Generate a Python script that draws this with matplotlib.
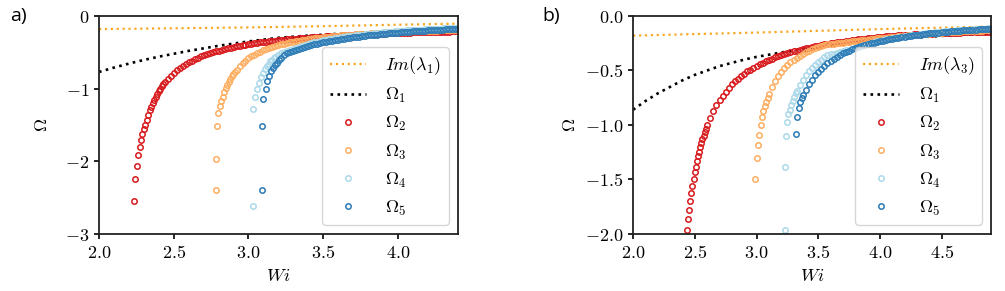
import numpy as np
import matplotlib
matplotlib.use('Agg')
import matplotlib.pyplot as plt
from matplotlib.ticker import FuncFormatter

plt.rcParams['mathtext.fontset'] = 'cm'
plt.rcParams['font.size'] = 12.5

# ---------------- panel a) data ----------------
# dotted reference lines
im_a_wi = [2.0, 2.5, 3.0, 3.5, 4.0, 4.4]
im_a_om = [-0.180, -0.169, -0.157, -0.140, -0.120, -0.105]
om1_a_wi = [2.0, 2.1, 2.2, 2.3, 2.4, 2.5, 2.6, 2.7, 2.8, 2.9, 3.0, 3.1, 3.2, 3.3, 3.4, 3.6, 3.8, 4.0, 4.2, 4.4]
om1_a_om = [-0.77, -0.71, -0.655, -0.605, -0.56, -0.52, -0.48, -0.445, -0.41, -0.38, -0.35, -0.325,
            -0.30, -0.285, -0.27, -0.245, -0.225, -0.21, -0.195, -0.185]

# Wi grid of the dense part of the branches
wi_a = [2.44, 2.46, 2.48, 2.50, 2.52, 2.54, 2.56, 2.58, 2.60, 2.62,
        2.64, 2.66, 2.68, 2.70, 2.72, 2.74, 2.76, 2.78, 2.80, 2.82,
        2.84, 2.86, 2.88, 2.90, 2.92, 2.94, 2.96, 2.98, 3.00, 3.02,
        3.04, 3.06, 3.08, 3.10, 3.12, 3.14, 3.16, 3.18, 3.20, 3.22,
        3.24, 3.26, 3.28, 3.30, 3.32, 3.34, 3.36, 3.38, 3.40, 3.42,
        3.44, 3.46, 3.48, 3.50, 3.52, 3.54, 3.56, 3.58, 3.60, 3.62,
        3.64, 3.66, 3.68, 3.70, 3.72, 3.74, 3.76, 3.78, 3.80, 3.82,
        3.84, 3.86, 3.88, 3.90, 3.92, 3.94, 3.96, 3.98, 4.00, 4.02,
        4.04, 4.06, 4.08, 4.10, 4.12, 4.14, 4.16, 4.18, 4.20, 4.22,
        4.24, 4.26, 4.28, 4.30, 4.32, 4.34, 4.36, 4.38, 4.40]

# Omega_2 (red)
om2_a_tail_wi = [2.234, 2.244, 2.252, 2.262, 2.273, 2.282, 2.291, 2.300, 2.31, 2.32, 2.33,
                 2.34, 2.35, 2.36, 2.37, 2.38, 2.39, 2.40, 2.41, 2.42, 2.43]
om2_a_tail = [-2.54, -2.25, -2.06, -1.91, -1.80, -1.70, -1.62, -1.55, -1.50, -1.43, -1.36,
              -1.30, -1.25, -1.20, -1.15, -1.11, -1.07, -1.03, -1.00, -0.97, -0.94]
om2_a = [-0.912, -0.863, -0.819, -0.780, -0.745, -0.714, -0.685, -0.659, -0.635, -0.613,
         -0.593, -0.574, -0.557, -0.541, -0.526, -0.512, -0.499, -0.487, -0.475, -0.464,
         -0.454, -0.444, -0.435, -0.426, -0.418, -0.410, -0.403, -0.396, -0.389, -0.382,
         -0.376, -0.370, -0.364, -0.359, -0.354, -0.349, -0.344, -0.339, -0.335, -0.330,
         -0.326, -0.322, -0.318, -0.315, -0.311, -0.308, -0.304, -0.301, -0.298, -0.295,
         -0.292, -0.289, -0.286, -0.283, -0.281, -0.278, -0.276, -0.273, -0.271, -0.269,
         -0.266, -0.264, -0.262, -0.260, -0.258, -0.256, -0.254, -0.252, -0.250, -0.249,
         -0.247, -0.245, -0.244, -0.242, -0.240, -0.239, -0.237, -0.236, -0.234, -0.233,
         -0.231, -0.230, -0.229, -0.227, -0.226, -0.225, -0.224, -0.222, -0.221, -0.220,
         -0.219, -0.218, -0.217, -0.216, -0.215, -0.214, -0.213, -0.212, -0.211]

# Omega_3 (orange)
om3_a_tail_wi = [2.783, 2.781, 2.789, 2.798, 2.809, 2.818, 2.828, 2.838, 2.848, 2.858, 2.868,
                 2.878, 2.888, 2.898, 2.908]
om3_a_tail = [-2.39, -1.97, -1.51, -1.34, -1.24, -1.17, -1.11, -1.05, -0.994, -0.947, -0.904,
              -0.866, -0.831, -0.799, -0.769]
om3_a = [-0.737, -0.690, -0.650, -0.614, -0.583, -0.556, -0.531, -0.509, -0.489, -0.471,
         -0.455, -0.440, -0.426, -0.413, -0.401, -0.390, -0.380, -0.371, -0.362, -0.354,
         -0.346, -0.338, -0.332, -0.325, -0.319, -0.313, -0.308, -0.302, -0.297, -0.293,
         -0.288, -0.284, -0.280, -0.276, -0.272, -0.268, -0.265, -0.261, -0.258, -0.255,
         -0.252, -0.249, -0.247, -0.244, -0.241, -0.239, -0.237, -0.234, -0.232, -0.230,
         -0.228, -0.226, -0.224, -0.222, -0.220, -0.218, -0.217, -0.215, -0.213, -0.212,
         -0.210, -0.209, -0.207, -0.206, -0.205, -0.203, -0.202, -0.201, -0.199, -0.198,
         -0.197, -0.196, -0.195, -0.194, -0.192]

# Omega_4 (light blue)
om4_a_tail_wi = [3.032, 3.032, 3.043, 3.055, 3.068, 3.082, 3.095, 3.108, 3.121, 3.134, 3.147,
                 3.160, 3.172]
om4_a_tail = [-2.61, -1.28, -1.11, -1.01, -0.92, -0.84, -0.78, -0.73, -0.69, -0.655, -0.625,
              -0.60, -0.575]
om4_a = [-0.558, -0.536, -0.516, -0.497, -0.480, -0.463, -0.448, -0.434, -0.421, -0.408,
         -0.396, -0.385, -0.374, -0.364, -0.355, -0.346, -0.337, -0.329, -0.321, -0.314,
         -0.307, -0.300, -0.294, -0.287, -0.282, -0.276, -0.270, -0.265, -0.260, -0.255,
         -0.250, -0.246, -0.242, -0.237, -0.233, -0.229, -0.226, -0.222, -0.218, -0.215,
         -0.212, -0.208, -0.205, -0.202, -0.199, -0.196, -0.194, -0.191, -0.188, -0.186,
         -0.183, -0.181, -0.178, -0.176, -0.174, -0.172, -0.169, -0.167, -0.165, -0.163,
         -0.161, -0.160]

# Omega_5 (blue)
om5_a_tail_wi = [3.092, 3.092, 3.100, 3.114, 3.126, 3.139, 3.152, 3.165, 3.178, 3.190, 3.202]
om5_a_tail = [-2.40, -1.52, -1.14, -1.00, -0.90, -0.83, -0.76, -0.71, -0.67, -0.64, -0.61]
om5_a = [-0.575, -0.540, -0.510, -0.494, -0.478, -0.464, -0.450, -0.437, -0.425, -0.414,
         -0.403, -0.392, -0.383, -0.373, -0.364, -0.356, -0.348, -0.340, -0.333, -0.326,
         -0.319, -0.312, -0.306, -0.300, -0.294, -0.289, -0.283, -0.278, -0.273, -0.268,
         -0.264, -0.259, -0.255, -0.251, -0.247, -0.243, -0.239, -0.235, -0.232, -0.228,
         -0.225, -0.222, -0.219, -0.215, -0.213, -0.210, -0.207, -0.204, -0.201, -0.199,
         -0.196, -0.194, -0.191, -0.189, -0.187, -0.184, -0.182, -0.180, -0.178, -0.176]

# ---------------- panel b) data ----------------
im_b_wi = [2.0, 2.5, 3.0, 3.5, 4.0, 4.5, 4.9]
im_b_om = [-0.180, -0.166, -0.152, -0.136, -0.120, -0.107, -0.097]
om1_b_wi = [2.0, 2.1, 2.2, 2.3, 2.4, 2.5, 2.6, 2.7, 2.8, 2.9, 3.0, 3.2, 3.4, 3.6, 3.8, 4.0, 4.2, 4.4, 4.6, 4.9]
om1_b_om = [-0.86, -0.78, -0.71, -0.65, -0.59, -0.54, -0.50, -0.46, -0.43, -0.40, -0.375, -0.335,
            -0.30, -0.27, -0.245, -0.225, -0.205, -0.19, -0.175, -0.16]

wi_b = [2.600, 2.625, 2.650, 2.675, 2.700, 2.725, 2.750, 2.775, 2.800, 2.825,
        2.850, 2.875, 2.900, 2.925, 2.950, 2.975, 3.000, 3.025, 3.050, 3.075,
        3.100, 3.125, 3.150, 3.175, 3.200, 3.225, 3.250, 3.275, 3.300, 3.325,
        3.350, 3.375, 3.400, 3.425, 3.450, 3.475, 3.500, 3.525, 3.550, 3.575,
        3.600, 3.625, 3.650, 3.675, 3.700, 3.725, 3.750, 3.775, 3.800, 3.825,
        3.850, 3.875, 3.900, 3.925, 3.950, 3.975, 4.000, 4.025, 4.050, 4.075,
        4.100, 4.125, 4.150, 4.175, 4.200, 4.225, 4.250, 4.275, 4.300, 4.325,
        4.350, 4.375, 4.400, 4.425, 4.450, 4.475, 4.500, 4.525, 4.550, 4.575,
        4.600, 4.625, 4.650, 4.675, 4.700, 4.725, 4.750, 4.775, 4.800, 4.825,
        4.850, 4.875, 4.900]

om2_b_tail_wi = [2.436, 2.445, 2.454, 2.463, 2.472, 2.481, 2.490, 2.499, 2.508, 2.517, 2.526,
                 2.535, 2.544, 2.553, 2.562, 2.571, 2.580, 2.589]
om2_b_tail = [-1.965, -1.867, -1.778, -1.697, -1.623, -1.556, -1.493, -1.436, -1.383, -1.333,
              -1.287, -1.244, -1.204, -1.167, -1.131, -1.098, -1.067, -1.037]
om2_b = [-1.003, -0.933, -0.873, -0.820, -0.772, -0.730, -0.693, -0.659, -0.628, -0.600,
         -0.574, -0.551, -0.529, -0.509, -0.491, -0.473, -0.457, -0.442, -0.428, -0.415,
         -0.402, -0.391, -0.380, -0.369, -0.359, -0.350, -0.341, -0.333, -0.325, -0.317,
         -0.310, -0.303, -0.296, -0.290, -0.284, -0.278, -0.272, -0.267, -0.261, -0.256,
         -0.252, -0.247, -0.243, -0.238, -0.234, -0.230, -0.226, -0.223, -0.219, -0.215,
         -0.212, -0.209, -0.206, -0.202, -0.199, -0.196, -0.194, -0.191, -0.188, -0.186,
         -0.183, -0.181, -0.178, -0.176, -0.174, -0.172, -0.170, -0.168, -0.167, -0.165,
         -0.164, -0.163, -0.162, -0.161, -0.160, -0.158, -0.157, -0.156, -0.155, -0.154,
         -0.154, -0.153, -0.152, -0.151, -0.150, -0.149, -0.149, -0.148, -0.147, -0.146,
         -0.146, -0.145, -0.144]

om3_b_tail_wi = [2.990, 3.000, 3.008, 3.020, 3.033, 3.045, 3.056, 3.067, 3.078, 3.089]
om3_b_tail = [-1.50, -1.30, -1.18, -1.09, -1.00, -0.93, -0.87, -0.83, -0.79, -0.75]
om3_b = [-0.714, -0.648, -0.594, -0.548, -0.510, -0.477, -0.448, -0.423, -0.400, -0.381,
         -0.363, -0.347, -0.332, -0.319, -0.307, -0.296, -0.286, -0.277, -0.268, -0.260,
         -0.257, -0.254, -0.252, -0.248, -0.244, -0.240, -0.236, -0.233, -0.229, -0.225,
         -0.222, -0.219, -0.216, -0.212, -0.209, -0.206, -0.204, -0.201, -0.198, -0.196,
         -0.193, -0.191, -0.188, -0.186, -0.182, -0.178, -0.176, -0.173, -0.170, -0.168,
         -0.165, -0.163, -0.161, -0.159, -0.157, -0.155, -0.153, -0.151, -0.149, -0.148,
         -0.146, -0.145, -0.143, -0.142, -0.140, -0.139, -0.138, -0.136, -0.135, -0.134,
         -0.132, -0.131, -0.130]

om4_b_tail_wi = [3.228, 3.234, 3.239, 3.245, 3.258, 3.270, 3.282, 3.294, 3.306, 3.318]
om4_b_tail = [-1.964, -1.385, -1.098, -0.973, -0.90, -0.864, -0.819, -0.779, -0.742, -0.709]
om4_b = [-0.691, -0.633, -0.585, -0.543, -0.507, -0.475, -0.447, -0.422, -0.400, -0.380,
         -0.362, -0.352, -0.345, -0.338, -0.331, -0.324, -0.316, -0.308, -0.300, -0.292,
         -0.282, -0.272, -0.264, -0.255, -0.247, -0.240, -0.233, -0.227, -0.221, -0.215,
         -0.209, -0.204, -0.199, -0.194, -0.190, -0.185, -0.181, -0.177, -0.173, -0.170,
         -0.166, -0.163, -0.159, -0.156, -0.153, -0.150, -0.148, -0.145, -0.142, -0.140,
         -0.137, -0.135, -0.133, -0.131, -0.128, -0.126, -0.124, -0.123, -0.121, -0.119,
         -0.117, -0.115, -0.114, -0.112]

om5_b_tail_wi = [3.320, 3.329, 3.342, 3.356, 3.368, 3.380]
om5_b_tail = [-1.083, -0.93, -0.845, -0.789, -0.755, -0.724]
om5_b = [-0.677, -0.627, -0.583, -0.545, -0.512, -0.483, -0.457, -0.433, -0.412, -0.393,
         -0.375, -0.359, -0.344, -0.331, -0.318, -0.307, -0.296, -0.286, -0.276, -0.268,
         -0.259, -0.251, -0.244, -0.237, -0.231, -0.225, -0.219, -0.213, -0.208, -0.203,
         -0.198, -0.194, -0.189, -0.185, -0.181, -0.177, -0.174, -0.170, -0.167, -0.163,
         -0.160, -0.157, -0.154, -0.152, -0.149, -0.146, -0.144, -0.141, -0.139, -0.137,
         -0.135, -0.132, -0.130, -0.128, -0.127, -0.125, -0.123, -0.121, -0.119, -0.118,
         -0.116]

colors = ['#d7191c', '#fdae61', '#abd9e9', '#2c7bb6']
im_color = '#f9a825'


def branch(tail_wi, tail_om, grid, band):
    # sparse points near the onset + dense part sitting on the end of the grid
    wi = list(tail_wi) + list(grid[len(grid) - len(band):])
    om = list(tail_om) + list(band)
    return wi, om


def draw(ax, im_wi, im_om, im_label, o1_wi, o1_om, branches, fmt, ypad):
    ax.plot(im_wi, im_om, ':', color=im_color, lw=1.6, label=im_label)
    ax.plot(o1_wi, o1_om, ':', color='k', lw=1.9, label=r'$\Omega_1$')
    for i, (wi, om) in enumerate(branches):
        ax.plot(wi, om, 'o', ls='none', mfc='none', mec=colors[i], ms=3.9, mew=1.1,
                label=r'$\Omega_%d$' % (i + 2))
    for s in ax.spines.values():
        s.set_linewidth(1.3)
        s.set_color('#222222')
    ax.tick_params(width=1.2, length=3.5, labelsize=13)
    ax.xaxis.set_major_formatter(FuncFormatter(lambda v, p: r'$%.1f$' % v))
    ax.yaxis.set_major_formatter(FuncFormatter(lambda v, p: r'$%s$' % (fmt % v)))
    ax.set_xlabel(r'$Wi$', fontsize=13)
    ax.set_ylabel(r'$\Omega$', fontsize=13, labelpad=ypad)
    ax.legend(loc='lower right', fontsize=13, handlelength=2.0, handletextpad=1.1)


fig = plt.figure(figsize=(10.05, 2.91), dpi=100)
ax1 = fig.add_axes([0.0985, 0.196, 0.357, 0.749])
ax2 = fig.add_axes([0.630, 0.196, 0.356, 0.749])

branches_a = [branch(om2_a_tail_wi, om2_a_tail, wi_a, om2_a),
              branch(om3_a_tail_wi, om3_a_tail, wi_a, om3_a),
              branch(om4_a_tail_wi, om4_a_tail, wi_a, om4_a),
              branch(om5_a_tail_wi, om5_a_tail, wi_a, om5_a)]
draw(ax1, im_a_wi, im_a_om, r'$Im(\lambda_1)$', om1_a_wi, om1_a_om, branches_a, '%.0f', 10)
ax1.set_xlim(2.0, 4.4)
ax1.set_ylim(-3, 0)
ax1.set_xticks([2.0, 2.5, 3.0, 3.5, 4.0])
ax1.set_yticks([0, -1, -2, -3])

branches_b = [branch(om2_b_tail_wi, om2_b_tail, wi_b, om2_b),
              branch(om3_b_tail_wi, om3_b_tail, wi_b, om3_b),
              branch(om4_b_tail_wi, om4_b_tail, wi_b, om4_b),
              branch(om5_b_tail_wi, om5_b_tail, wi_b, om5_b)]
draw(ax2, im_b_wi, im_b_om, r'$Im(\lambda_3)$', om1_b_wi, om1_b_om, branches_b, '%.1f', 4)
ax2.set_xlim(2.0, 4.9)
ax2.set_ylim(-2.0, 0)
ax2.set_xticks([2.0, 2.5, 3.0, 3.5, 4.0, 4.5])
ax2.set_yticks([0.0, -0.5, -1.0, -1.5, -2.0])

fig.text(0.010, 0.945, 'a)', family='Open Sans', fontsize=14, va='center')
fig.text(0.540, 0.945, 'b)', family='Open Sans', fontsize=14, va='center')

fig.savefig('out.png', dpi=100)
